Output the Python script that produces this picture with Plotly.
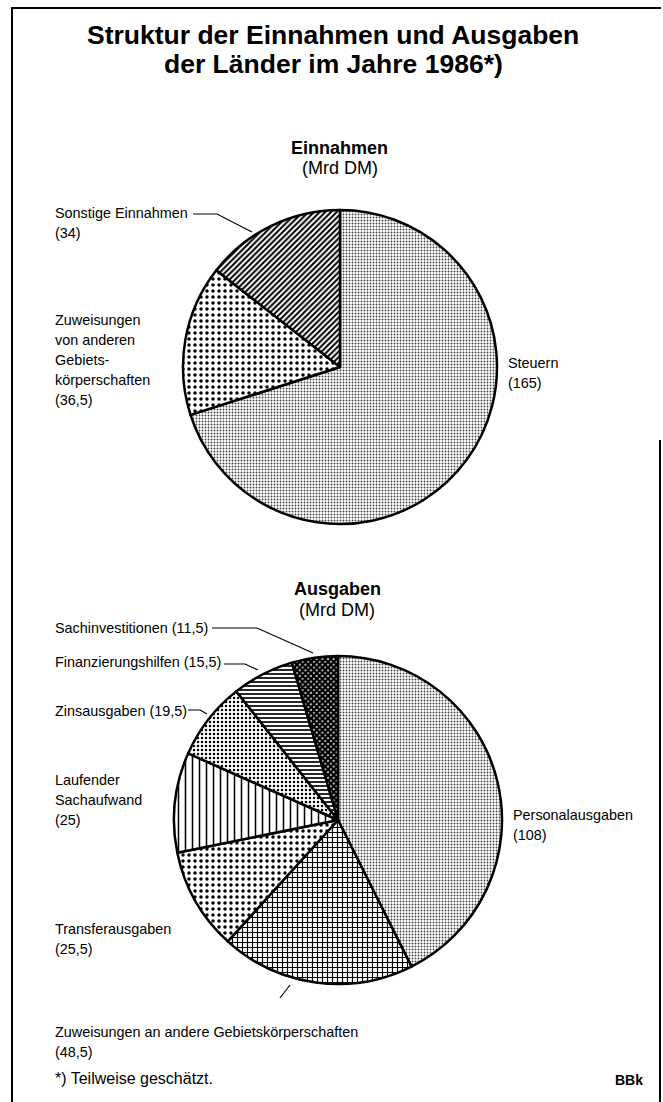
import plotly.graph_objects as go

# ---------------- data ----------------
title_lines = ["Struktur der Einnahmen und Ausgaben", "der Länder im Jahre 1986*)"]

einnahmen_labels = ["Steuern", "Zuweisungen von anderen Gebietskörperschaften", "Sonstige Einnahmen"]
einnahmen_values = [165, 36.5, 34]

ausgaben_labels = ["Personalausgaben", "Zuweisungen an andere Gebietskörperschaften",
                   "Transferausgaben", "Laufender Sachaufwand", "Zinsausgaben",
                   "Finanzierungshilfen", "Sachinvestitionen"]
ausgaben_values = [108, 48.5, 25.5, 25, 19.5, 15.5, 11.5]

footnote = "*) Teilweise geschätzt."
source = "BBk"

# ---------------- styles ----------------
W, H = 663, 1102
def X(px): return px / W
def Y(py): return 1 - py / H

FAM = "Liberation Sans, Arial, Helvetica, sans-serif"
LABEL_FONT = dict(family=FAM, size=14.4, color="black")
HEAD_FONT = dict(family=FAM, size=18, color="black")

fine = dict(shape=".", size=3, solidity=0.3, fgcolor="#444", bgcolor="white")
coarse_dots = dict(shape=".", size=6, solidity=0.27, fgcolor="black", bgcolor="white")

einnahmen_patterns = [
    fine,
    coarse_dots,
    dict(shape="/", size=4, solidity=0.5, fgcolor="black", bgcolor="white"),
]
ausgaben_patterns = [
    fine,
    dict(shape="+", size=5, solidity=0.42, fgcolor="black", bgcolor="white"),
    coarse_dots,
    dict(shape="|", size=7, solidity=0.22, fgcolor="black", bgcolor="white"),
    dict(shape=".", size=4, solidity=0.3, fgcolor="black", bgcolor="white"),
    dict(shape="-", size=4, solidity=0.42, fgcolor="black", bgcolor="white"),
    dict(shape="x", size=4, solidity=0.85, fgcolor="black", bgcolor="white"),
]

def pie(labels, values, patterns, cx, cy, r):
    return go.Pie(
        labels=labels, values=values, sort=False, direction="clockwise", rotation=0,
        textinfo="none", hoverinfo="label+value", showlegend=False,
        marker=dict(colors=["white"] * len(values),
                    pattern=dict(shape=[p["shape"] for p in patterns],
                                 size=[p["size"] for p in patterns],
                                 solidity=[p["solidity"] for p in patterns],
                                 fgcolor=[p["fgcolor"] for p in patterns],
                                 bgcolor=[p["bgcolor"] for p in patterns],
                                 fillmode="replace"),
                    line=dict(color="black", width=2.5)),
        domain=dict(x=[X(cx - r), X(cx + r)], y=[Y(cy + r), Y(cy - r)]),
    )

fig = go.Figure()
fig.add_trace(pie(einnahmen_labels, einnahmen_values, einnahmen_patterns, 340, 367, 157))
fig.add_trace(pie(ausgaben_labels, ausgaben_values, ausgaben_patterns, 338, 820, 164))

annotations = []
def txt(s, x, y, font, xanchor="left"):
    annotations.append(dict(text=s, x=X(x), y=Y(y), xref="paper", yref="paper",
                            xanchor=xanchor, yanchor="middle", showarrow=False, font=font))

# title
tfont = dict(family=FAM, size=26.5, color="black")
txt("<b>" + title_lines[0] + "</b>", 333, 35, tfont, "center")
txt("<b>" + title_lines[1] + "</b>", 333, 64, tfont, "center")

# pie headers
txt("<b>Einnahmen</b>", 340, 148, HEAD_FONT, "center")
txt("(Mrd DM)", 340, 168, HEAD_FONT, "center")
txt("<b>Ausgaben</b>", 337, 589, HEAD_FONT, "center")
txt("(Mrd DM)", 337, 610, HEAD_FONT, "center")

def block(lines, x, y0, step=20):
    for i, s in enumerate(lines):
        txt(s, x, y0 + i * step, LABEL_FONT)

# Einnahmen labels
block(["Sonstige Einnahmen", "(34)"], 53, 213)
block(["Zuweisungen", "von anderen", "Gebiets-", "körperschaften", "(36,5)"], 53, 320)
block(["Steuern", "(165)"], 506, 363)

# Ausgaben labels
block(["Sachinvestitionen (11,5)"], 53, 628)
block(["Finanzierungshilfen (15,5)"], 53, 662)
block(["Zinsausgaben (19,5)"], 53, 711)
block(["Laufender", "Sachaufwand", "(25)"], 53, 780)
block(["Personalausgaben", "(108)"], 511, 815)
block(["Transferausgaben", "(25,5)"], 53, 929)
block(["Zuweisungen an andere Gebietskörperschaften", "(48,5)"], 53, 1032)

txt(footnote, 53, 1078, dict(family=FAM, size=16, color="black"))
txt("<b>" + source + "</b>", 645, 1080, dict(family=FAM, size=14, color="black"), "right")

# leader lines and frame
shapes = []
def path(points, width=1.2):
    d = "M " + " L ".join(f"{X(a):.5f},{Y(b):.5f}" for a, b in points)
    shapes.append(dict(type="path", path=d, xref="paper", yref="paper",
                       line=dict(color="black", width=width)))

path([(193, 214), (217, 214), (252, 232)])
path([(212, 628), (257, 628), (313, 653)])
path([(224, 664), (245, 664), (258, 670)])
path([(188, 710), (200, 710), (207, 714)])
path([(290, 985), (280, 998)])

# frame
path([(12, 1102), (12, 8), (661, 8)], width=2)
path([(660, 440), (660, 1102)], width=2)

fig.update_layout(
    width=W, height=H, margin=dict(l=0, r=0, t=0, b=0),
    paper_bgcolor="white", plot_bgcolor="white",
    annotations=annotations, shapes=shapes,
)

fig.write_html("out.html", config={"displayModeBar": False},
               post_script="document.body.style.margin='0';document.body.style.overflow='hidden';")
